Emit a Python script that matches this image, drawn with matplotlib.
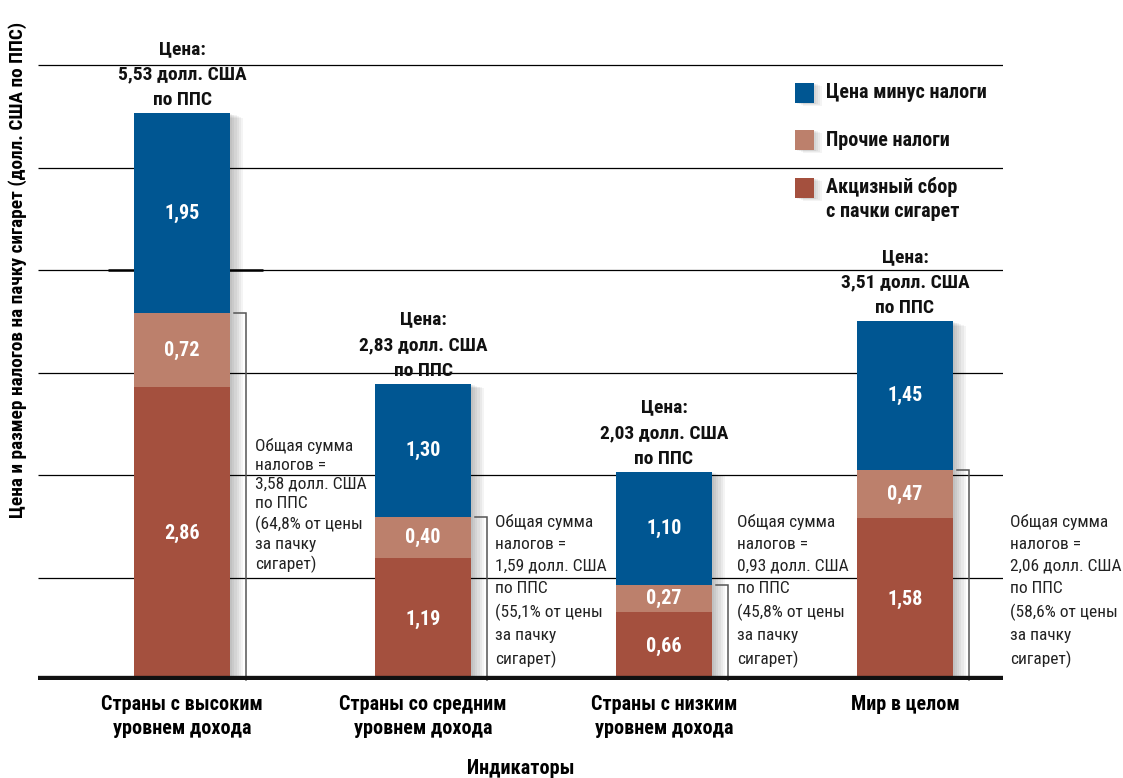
import matplotlib
matplotlib.use("Agg")
import matplotlib.pyplot as plt
import matplotlib.font_manager as fm
from matplotlib.patches import Rectangle
import matplotlib.patheffects as pe

# ---------------- data ----------------
categories = ['Страны с высоким\nуровнем дохода', 'Страны со средним\nуровнем дохода',
              'Страны с низким\nуровнем дохода', 'Мир в целом']
excise = [2.86, 1.19, 0.66, 1.58]
other_taxes = [0.72, 0.40, 0.27, 0.47]
price_net = [1.95, 1.30, 1.10, 1.45]
price_total = ['5,53', '2,83', '2,03', '3,51']
tax_total = ['3,58', '1,59', '0,93', '2,06']
tax_share = ['64,8', '55,1', '45,8', '58,6']
legend_labels = ['Цена минус налоги', 'Прочие налоги', 'Акцизный сбор\nс пачки сигарет']

# ---------------- fonts ----------------
names = {f.name for f in fm.fontManager.ttflist}
cands = ['Roboto Condensed', 'PT Sans Narrow', 'Fira Sans Condensed', 'Liberation Sans Narrow',
         'Roboto']
FONT = next((c for c in cands if c in names), 'DejaVu Sans')
plt.rcParams['font.family'] = [FONT, 'DejaVu Sans']

C_NET = '#005692'
C_OTH = '#BC806C'
C_EXC = '#A4503E'

W, H = 1123, 778
fig = plt.figure(figsize=(W / 100, H / 100), dpi=100)
PXU = 102.5  # px per unit
YTOP = 6.45
ax = fig.add_axes([38 / W, 1 - 680 / H, (1003 - 38) / W, YTOP * PXU / H])
ax.set_xlim(-0.598, 3.407)
ax.set_ylim(0, YTOP)
for s in ax.spines.values():
    s.set_visible(False)
ax.set_yticks([])

x = list(range(len(categories)))
bw = 0.40
totals = [a + b + c for a, b, c in zip(excise, other_taxes, price_net)]

# gridlines
ax.hlines([1, 2, 3, 4, 5, 6], -0.598, 3.407, colors='black', lw=0.9, zorder=1)
ax.hlines([4], -0.307, 0.336, colors='black', lw=1.8, zorder=1)

# soft shadows behind the bars
shadow_fx = [pe.SimplePatchShadow(offset=(d, -d * 0.35), shadow_rgbFace='black', alpha=0.045)
             for d in (1.5, 3, 4.5, 6, 7.5, 9)]
sh = ax.bar(x, totals, bw, color='white', zorder=2)
for p in sh:
    p.set_path_effects(shadow_fx)

ax.bar(x, excise, bw, color=C_EXC, zorder=3)
ax.bar(x, other_taxes, bw, bottom=excise, color=C_OTH, zorder=3)
bot3 = [a + b for a, b in zip(excise, other_taxes)]
ax.bar(x, price_net, bw, bottom=bot3, color=C_NET, zorder=3)

# baseline
ax.axhline(0, color='#111111', lw=6, zorder=5)

BF = 14.5
# values inside bars
for i in x:
    for bot, val in ((0, excise[i]), (excise[i], other_taxes[i]), (bot3[i], price_net[i])):
        ax.text(i, bot + val / 2, f'{val:.2f}'.replace('.', ','), ha='center', va='center',
                color='white', fontsize=BF, fontweight='bold', zorder=6)

# price labels above bars
for i in x:
    ax.annotate(f'Цена:\n{price_total[i]} долл. США\nпо ППС', xy=(i, totals[i]),
                xytext=(0, 4), textcoords='offset pixels', ha='center', va='bottom',
                fontsize=14, fontweight='bold', linespacing=1.55, color='#111111')

# brackets and tax annotations
text_dx = [25, 24, 25, 57]        # px right of bar edge
text_top = [438, 514, 514, 514]   # px from figure top
text_ls = [1.33, 1.58, 1.58, 1.58]
for i in x:
    edge = i + bw / 2
    top = bot3[i]
    x0 = edge + 4 / 241
    x1 = edge + 16 / 241
    ax.plot([x0, x1, x1], [top, top, 0], color='#555555', lw=1.1, zorder=2,
            solid_joinstyle='miter', clip_on=False)
    ax.text(edge + text_dx[i] / 241, (680 - text_top[i]) / PXU,
            f'Общая сумма\nналогов =\n{tax_total[i]} долл. США\nпо ППС\n({tax_share[i]}% от цены\nза пачку\nсигарет)',
            ha='left', va='top', fontsize=12.5, linespacing=text_ls[i], color='#222222',
            clip_on=False)

# category labels
ax.set_xticks(x)
ax.set_xticklabels(categories, fontsize=BF, fontweight='bold', linespacing=1.35)
ax.tick_params(axis='x', length=0, pad=10.5)
ax.set_xlabel('Индикаторы', fontsize=BF, fontweight='bold', labelpad=15)

# y label
fig.text(18 / W, 1 - 270 / H, 'Цена и размер налогов на пачку сигарет (долл. США по ППС)',
         rotation=90, ha='center', va='center', fontsize=13.9, fontweight='bold')

# legend (manual)
leg_y = [93, 140, 188]
leg_text_y = [93, 141, 199]
for col, ly, ty, lab in zip([C_NET, C_OTH, C_EXC], leg_y, leg_text_y, legend_labels):
    r = Rectangle((795 / W, 1 - (ly + 10) / H), 19 / W, 20 / H, transform=fig.transFigure,
                  facecolor=col, edgecolor='none', zorder=4)
    r.set_path_effects(shadow_fx[:4] + [pe.Normal()])
    fig.add_artist(r)
    fig.text(826 / W, 1 - ty / H, lab, ha='left', va='center', fontsize=BF,
             fontweight='bold', linespacing=1.35, color='#111111')

fig.savefig('out.png', dpi=100)
